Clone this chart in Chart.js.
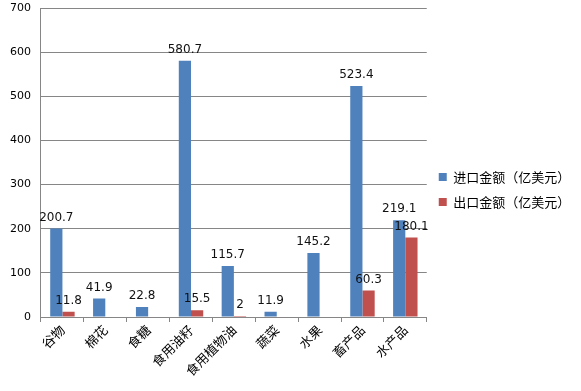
<!DOCTYPE html>
<html><head><meta charset="utf-8">
<script src="https://cdn.jsdelivr.net/npm/chart.js@4"></script>
<style>html,body{margin:0;padding:0;background:#fff}#wrap{width:581px;height:391px}</style>
</head><body><div id="wrap"><canvas id="c" width="581" height="391"></canvas></div>
<script>
const categories = ['谷物','棉花','食糖','食用油籽','食用植物油','蔬菜','水果','畜产品','水产品'];
const importValues = [200.7, 41.9, 22.8, 580.7, 115.7, 11.9, 145.2, 523.4, 219.1];
const exportValues = [11.8, null, null, 15.5, 2, null, null, 60.3, 180.1];
const seriesNames = ['进口金额（亿美元）','出口金额（亿美元）'];
const yTicks = [0,100,200,300,400,500,600,700];

const labelPlugin = {
  id:'barLabels',
  afterDatasetsDraw(chart){
    const ctx = chart.ctx;
    ctx.save();
    ctx.font = '12px "DejaVu Sans", Tahoma, sans-serif';
    ctx.fillStyle = '#111';
    ctx.textAlign = 'center';
    ctx.textBaseline = 'bottom';
    chart.data.datasets.forEach((ds, di) => {
      const meta = chart.getDatasetMeta(di);
      meta.data.forEach((el, i) => {
        const v = ds.data[i];
        if (v === null || v === undefined) return;
        ctx.fillText(String(v), el.x, el.y - 5);
      });
    });
    ctx.restore();
  }
};

new Chart(document.getElementById('c'), {
  type:'bar',
  data:{
    labels: categories,
    datasets:[
      {label: seriesNames[0], data: importValues, backgroundColor:'#4F81BD', categoryPercentage:0.57, barPercentage:1},
      {label: seriesNames[1], data: exportValues, backgroundColor:'#C0504D', categoryPercentage:0.57, barPercentage:1}
    ]
  },
  options:{
    responsive:false, animation:false,
    layout:{padding:{top:0,right:12,left:0,bottom:12}},
    plugins:{
      legend:{position:'right', labels:{boxWidth:8, boxHeight:8, padding:12, color:'#000', font:{family:'"Noto Sans CJK SC"', size:13}}},
      tooltip:{enabled:false}
    },
    scales:{
      x:{
        grid:{drawOnChartArea:false, drawTicks:true, tickLength:5, color:'#868686'},
        border:{color:'#868686'},
        ticks:{minRotation:45, maxRotation:45, color:'#000', font:{family:'"Noto Sans CJK SC"', size:13}, padding:0}
      },
      y:{
        min:0, max:700,
        afterBuildTicks(axis){ axis.ticks = yTicks.map(v=>({value:v})); },
        afterFit(axis){ axis.paddingTop = 8; },
        grid:{color:'#868686', drawTicks:false},
        border:{color:'#868686'},
        ticks:{color:'#000', padding:10, font:{family:'"DejaVu Sans"', size:11}}
      }
    }
  },
  plugins:[labelPlugin]
});
</script></body></html>
